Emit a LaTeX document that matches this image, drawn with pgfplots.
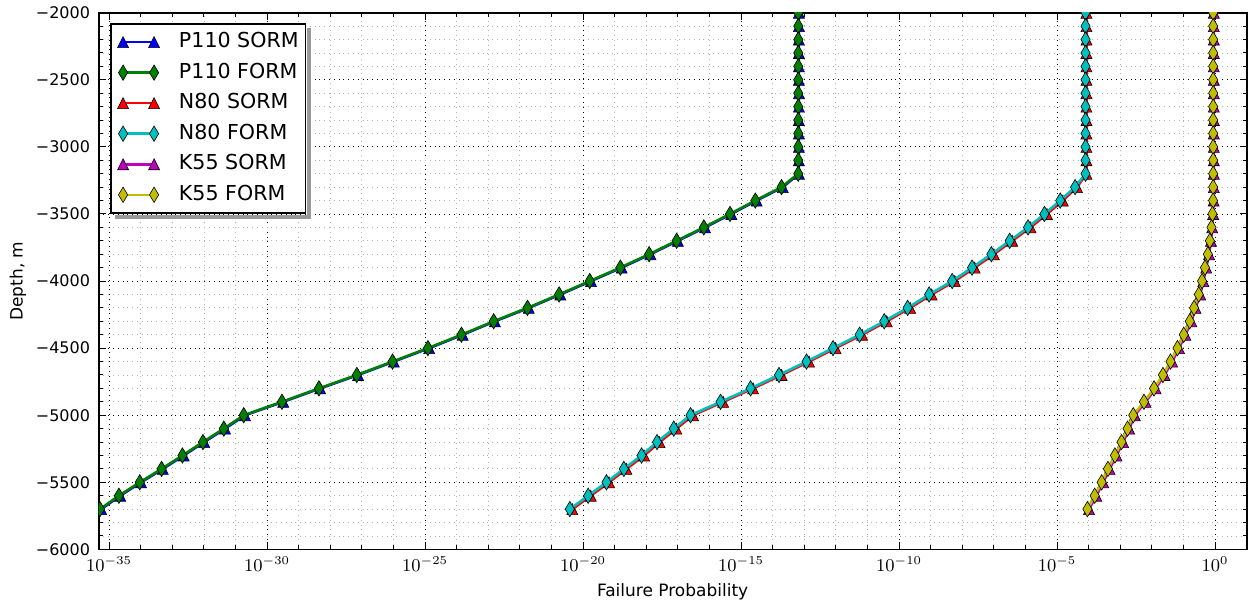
\documentclass[border=0pt]{standalone}
\usepackage[no-math]{fontspec}
\setmainfont{DejaVu Sans}
\usepackage{pgfplots}
\usepackage{pgfplotstable}
\pgfplotsset{compat=1.18}

\pgfdeclareplotmark{mtri}{%
  \pgfpathmoveto{\pgfqpoint{0pt}{\pgfplotmarksize}}%
  \pgfpathlineto{\pgfqpoint{-\pgfplotmarksize}{-\pgfplotmarksize}}%
  \pgfpathlineto{\pgfqpoint{\pgfplotmarksize}{-\pgfplotmarksize}}%
  \pgfpathclose\pgfusepathqfillstroke}
\pgfdeclareplotmark{mdia}{%
  \pgfpathmoveto{\pgfqpoint{0pt}{1.4\pgfplotmarksize}}%
  \pgfpathlineto{\pgfqpoint{0.84\pgfplotmarksize}{0pt}}%
  \pgfpathlineto{\pgfqpoint{0pt}{-1.4\pgfplotmarksize}}%
  \pgfpathlineto{\pgfqpoint{-0.84\pgfplotmarksize}{0pt}}%
  \pgfpathclose\pgfusepathqfillstroke}

\definecolor{mpb}{rgb}{0,0,1}
\definecolor{mpg}{rgb}{0,0.5,0}
\definecolor{mpr}{rgb}{1,0,0}
\definecolor{mpc}{rgb}{0,0.75,0.75}
\definecolor{mpm}{rgb}{0.75,0,0.75}
\definecolor{mpy}{rgb}{0.75,0.75,0}

\pgfplotsset{
  sorm/.style={color=#1, line width=1.3pt, mark=mtri, mark size=2.75pt,
    mark options={fill=#1, draw=black, line width=0.3pt, solid}},
  form/.style={color=#1, line width=1.3pt, mark=mdia, mark size=2.75pt,
    mark options={fill=#1, draw=black, line width=0.3pt, solid}},
}

\pgfplotstableread{
depth p110s p110f n80s n80f k55s k55f
-2000 6.761e-14 6.457e-14 8.511e-5 7.943e-5 0.912 0.871
-2100 6.761e-14 6.457e-14 8.511e-5 7.943e-5 0.912 0.871
-2200 6.761e-14 6.457e-14 8.511e-5 7.943e-5 0.912 0.871
-2300 6.761e-14 6.457e-14 8.511e-5 7.943e-5 0.912 0.871
-2400 6.761e-14 6.457e-14 8.511e-5 7.943e-5 0.912 0.871
-2500 6.761e-14 6.457e-14 8.511e-5 7.943e-5 0.912 0.871
-2600 6.761e-14 6.457e-14 8.511e-5 7.943e-5 0.912 0.871
-2700 6.761e-14 6.457e-14 8.511e-5 7.943e-5 0.912 0.871
-2800 6.761e-14 6.457e-14 8.511e-5 7.943e-5 0.912 0.871
-2900 6.761e-14 6.457e-14 8.511e-5 7.943e-5 0.912 0.871
-3000 6.761e-14 6.457e-14 8.511e-5 7.943e-5 0.912 0.871
-3100 6.761e-14 6.457e-14 8.511e-5 7.943e-5 0.912 0.871
-3200 6.761e-14 6.457e-14 8.511e-5 7.943e-5 0.912 0.871
-3300 2.089e-14 1.905e-14 4.266e-5 3.715e-5 0.912 0.871
-3400 3.090e-15 2.818e-15 1.514e-5 1.259e-5 0.902 0.865
-3500 4.898e-16 4.467e-16 4.786e-6 3.981e-6 0.871 0.828
-3600 7.244e-17 6.607e-17 1.445e-6 1.202e-6 0.813 0.769
-3700 1.000e-17 9.120e-18 3.802e-7 3.162e-7 0.741 0.684
-3800 1.349e-18 1.230e-18 1.000e-7 8.318e-8 0.646 0.589
-3900 1.660e-19 1.514e-19 2.455e-8 2.042e-8 0.525 0.479
-4000 1.778e-20 1.622e-20 5.754e-9 4.786e-9 0.427 0.388
-4100 1.905e-21 1.738e-21 1.072e-9 8.913e-10 0.339 0.305
-4200 1.905e-22 1.738e-22 2.239e-10 1.862e-10 0.240 0.216
-4300 1.622e-23 1.479e-23 4.074e-11 3.388e-11 0.178 0.158
-4400 1.549e-24 1.413e-24 6.761e-12 5.623e-12 0.115 0.102
-4500 1.349e-25 1.230e-25 9.772e-13 8.128e-13 0.0724 0.0646
-4600 1.023e-26 9.333e-27 1.413e-13 1.175e-13 0.0437 0.0389
-4700 7.586e-28 6.918e-28 1.905e-14 1.585e-14 0.0251 0.0224
-4800 4.786e-29 4.365e-29 2.399e-15 1.995e-15 0.0132 0.0117
-4900 3.236e-30 2.951e-30 2.692e-16 2.239e-16 6.310e-3 5.623e-3
-5000 1.995e-31 1.820e-31 3.020e-17 2.512e-17 2.884e-3 2.570e-3
-5100 4.677e-32 4.266e-32 8.913e-18 7.413e-18 1.905e-3 1.698e-3
-5200 1.023e-32 9.333e-33 2.630e-18 2.188e-18 1.230e-3 1.096e-3
-5300 2.291e-33 2.089e-33 8.511e-19 7.079e-19 7.586e-4 6.761e-4
-5400 5.012e-34 4.571e-34 2.344e-19 1.950e-19 4.571e-4 4.074e-4
-5500 1.023e-34 9.333e-35 6.607e-20 5.495e-20 2.884e-4 2.570e-4
-5600 2.239e-35 2.042e-35 1.738e-20 1.445e-20 1.738e-4 1.549e-4
-5700 5.623e-36 5.129e-36 4.571e-21 3.802e-21 1.023e-4 9.120e-5
}\datatable

\begin{document}
\begin{tikzpicture}
\path (-49.35pt,-27pt) rectangle (575.65pt,274.5pt);
\begin{axis}[
  at={(0,0)}, anchor=south west,
  scale only axis, width=574pt, height=268.35pt,
  xmode=log, xmin=4.68e-36, xmax=10, ymin=-6000, ymax=-2000,
  xtick={1e-35,1e-30,1e-25,1e-20,1e-15,1e-10,1e-5,1},
  minor xtick={1e-34,1e-33,1e-32,1e-31,1e-29,1e-28,1e-27,1e-26,1e-24,1e-23,1e-22,1e-21,1e-19,1e-18,1e-17,1e-16,1e-14,1e-13,1e-12,1e-11,1e-9,1e-8,1e-7,1e-6,1e-4,1e-3,1e-2,1e-1,10},
  ytick={-6000,-5500,-5000,-4500,-4000,-3500,-3000,-2500,-2000},
  yticklabels={−6000,−5500,−5000,−4500,−4000,−3500,−3000,−2500,−2000},
  minor y tick num=4,
  grid=both,
  major grid style={black, dotted, line width=0.4pt},
  minor grid style={black!30, dotted, line width=0.4pt},
  axis line style={line width=0.9pt},
  tick style={black, line width=0.5pt},
  major tick length=3.5pt, minor tick length=2pt,
  xticklabel style={font=\fontsize{9}{10}\selectfont},
  yticklabel style={font=\fontsize{8}{9.6}\selectfont, xshift=-0.8pt},
  xlabel={Failure Probability}, ylabel={Depth, m},
  label style={font=\fontsize{8.5}{10}\selectfont},
  xlabel style={at={(axis description cs:0.5,0)}, anchor=north, yshift=-13.5pt},
  ylabel style={at={(axis description cs:-0.0703,0.5)}, anchor=center},
  clip marker paths=true,
  legend image code/.code={\draw[mark repeat=2,mark phase=1,#1] plot coordinates {(0pt,0pt) (7.75pt,0pt) (15.5pt,0pt)};},
  legend cell align=left,
  legend style={name=leg, at={(axis description cs:0,1)}, anchor=north west, xshift=5.65pt, yshift=-5.2pt,
    font=\fontsize{10.3}{12}\selectfont, draw=black, line width=0.8pt, fill=white,
    inner xsep=3.4pt, inner ysep=4.2pt, row sep=5.47pt, column sep=9.7pt,
    nodes={inner sep=0pt, text height=7.7pt, text depth=2.1pt}},
]
\addplot[sorm=mpb] table[x=p110s, y=depth] {\datatable};
\addlegendentry{P110 SORM}
\addplot[form=mpg] table[x=p110f, y=depth] {\datatable};
\addlegendentry{P110 FORM}
\addplot[sorm=mpr] table[x=n80s, y=depth] {\datatable};
\addlegendentry{N80 SORM}
\addplot[form=mpc] table[x=n80f, y=depth] {\datatable};
\addlegendentry{N80 FORM}
\addplot[sorm=mpm] table[x=k55s, y=depth] {\datatable};
\addlegendentry{K55 SORM}
\addplot[form=mpy] table[x=k55f, y=depth] {\datatable};
\addlegendentry{K55 FORM}
\end{axis}
\fill[black!40] ([shift={(0.4pt,-2.4pt)}]leg.north east) rectangle ([shift={(2.4pt,-2.4pt)}]leg.south east);
\fill[black!40] ([shift={(2.4pt,-0.4pt)}]leg.south west) rectangle ([shift={(2.4pt,-2.4pt)}]leg.south east);
\end{tikzpicture}
\end{document}
